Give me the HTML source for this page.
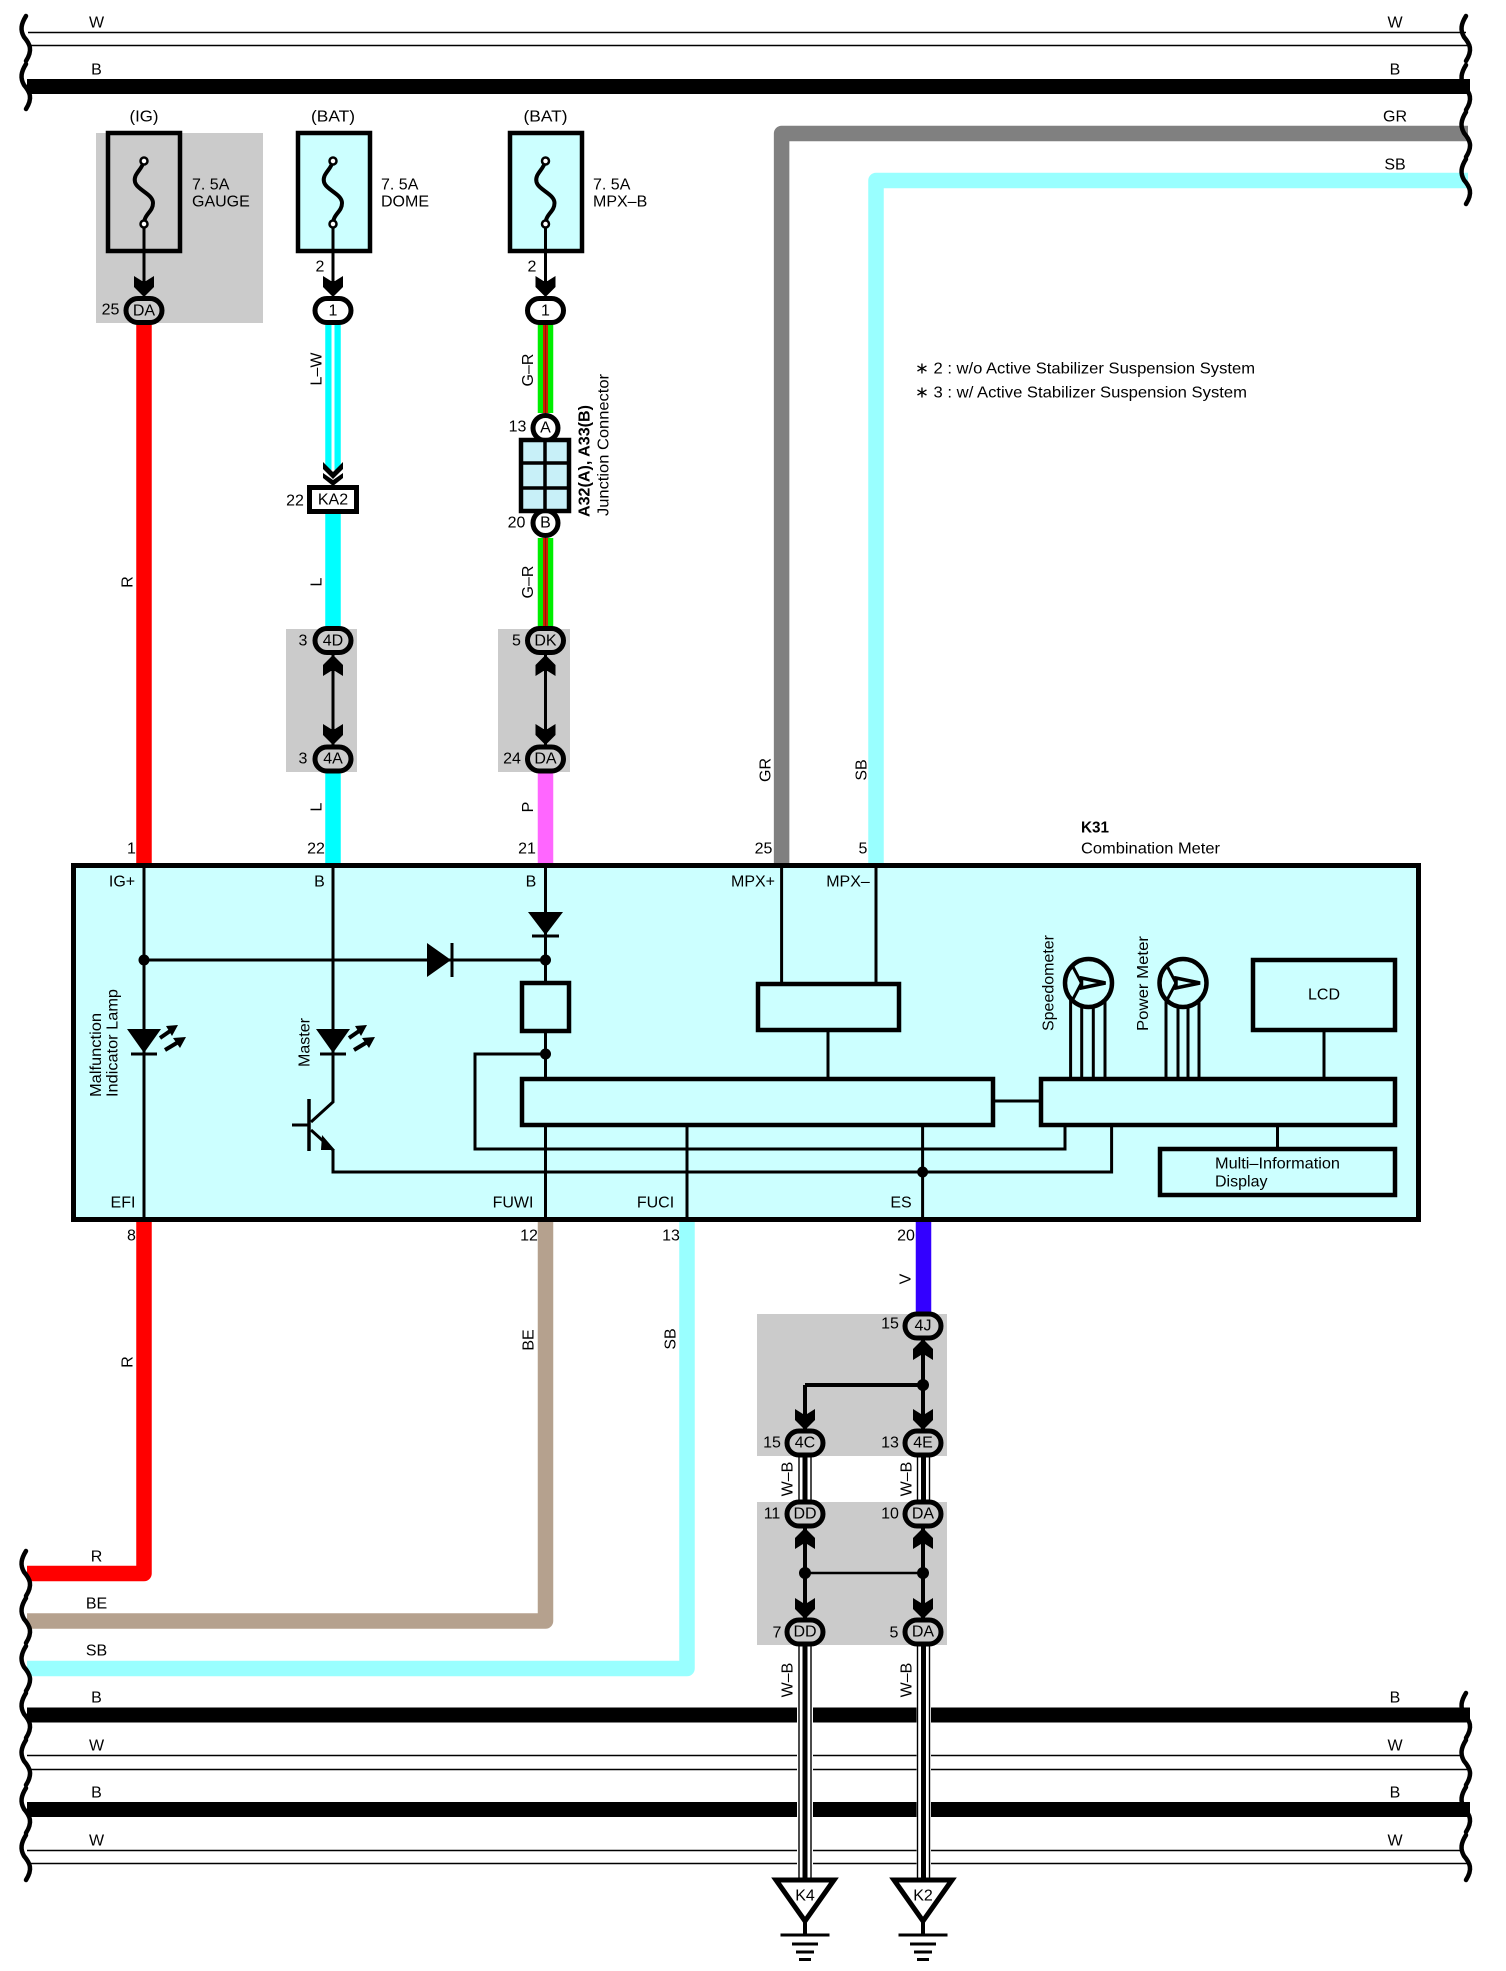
<!DOCTYPE html>
<html><head><meta charset="utf-8">
<style>
html,body{margin:0;padding:0;background:#fff}
svg{display:block}
text{font-family:"Liberation Sans",Arial,sans-serif;font-size:16px;fill:#000;text-anchor:middle;dominant-baseline:central}
.s{text-anchor:start}
.l{fill:none;stroke:#000;stroke-width:3}
.b{fill:#CCFFFF;stroke:#000;stroke-width:4.5}
</style></head><body>
<svg width="1506" height="1971" viewBox="0 0 1506 1971" xmlns="http://www.w3.org/2000/svg">
<defs>
<path id="br" d="M5,0 C0,8 -1,14 3,21 C9,28 12,34 5,45" fill="none" stroke="#000" stroke-width="4.5" stroke-linecap="round"/>
<path id="ad" d="M-10,0 L-2,5 H2 L10,0 V11 L0,21 L-10,11Z" fill="#000"/>
<path id="au" d="M-10,0 L-2,-5 H2 L10,0 V-11 L0,-21 L-10,-11Z" fill="#000"/>
<g id="led"><path d="M-17,0 H17 L0,24Z" fill="#000"/><path d="M-13,25 H13" stroke="#000" stroke-width="3"/>
<path d="M16,9 L29,0" stroke="#000" stroke-width="4"/><path d="M22,-3 L34,-4 L28,7Z" fill="#000"/>
<path d="M21,21 L36,12" stroke="#000" stroke-width="4"/><path d="M29,9 L42,8 L36,19Z" fill="#000"/></g>
<g id="gauge"><ellipse rx="23.5" ry="24" fill="#CCFFFF" stroke="#000" stroke-width="4.5"/>
<path d="M-16,-17 L-7,0 L-16,17" fill="none" stroke="#000" stroke-width="3"/>
<path d="M-7,-5 L17,0 L-7,5 Z" fill="#CCFFFF" stroke="#000" stroke-width="3.5"/></g>
<g id="fuse"><path d="M0,-31 C-2,-22 -11,-18 -9,-10 C-7,-2 9,2 9,11 C9,20 0,22 0,32" fill="none" stroke="#000" stroke-width="4"/>
<circle cy="-31" r="3.5" fill="#fff" stroke="#000" stroke-width="2.5"/><circle cy="32" r="3.5" fill="#fff" stroke="#000" stroke-width="2.5"/></g>
<g id="gnd"><path d="M-29,1 H29 L0,42Z" fill="#fff" stroke="#000" stroke-width="5" stroke-linejoin="miter"/>
<path d="M0,42 V56" stroke="#000" stroke-width="4"/>
<path d="M-24.5,56 H24.5 M-13,65 H13 M-9,73 H9 M-6,80.500 H6" stroke="#000" stroke-width="3"/></g>
</defs>
<rect width="1506" height="1971" fill="#fff"/>

<!-- shaded -->
<g fill="#CBCBCB">
<rect x="96" y="133" width="167" height="190"/>
<rect x="286" y="629" width="71" height="143"/>
<rect x="498" y="629" width="72" height="143"/>
<rect x="757" y="1314" width="190" height="142"/>
<rect x="757" y="1502" width="190" height="143"/>
</g>

<!-- top bus -->
<g stroke="#000" fill="none">
<path d="M28,32.500 H1466 M28,45.500 H1470" stroke-width="1.4"/>
<path d="M27,86.500 H1470" stroke-width="15"/>
<path d="M27,1715 H1470 M27,1809.500 H1470" stroke-width="15"/>
<path d="M27,1755.500 H1462 M30,1769.500 H1470 M27,1850.500 H1462 M30,1863.500 H1470" stroke-width="1.4"/>
</g>

<!-- coloured wires -->
<g fill="none" stroke-linejoin="round" stroke-width="15.500">
<path d="M144,324 V863" stroke="#FF0000"/>
<path d="M144,1222 V1573.500 H27" stroke="#FF0000"/>
<path d="M545.500,1222 V1621 H27" stroke="#B5A18E"/>
<path d="M687,1222 V1668.500 H27" stroke="#99FFFF"/>
<path d="M781.600,863 V133.500 H1468" stroke="#808080"/>
<path d="M876,863 V180.500 H1468" stroke="#99FFFF"/>
<path d="M333,324 V470" stroke="#00FFFF"/>
<path d="M333,513 V629 M333,773 V863" stroke="#00FFFF"/>
<path d="M545.500,773 V863" stroke="#FF66FF"/>
<path d="M923.500,1222 V1312" stroke="#3300FF"/>
<path d="M545.500,324 V413 M545.500,538 V629" stroke="#00EE00"/>
</g>
<path d="M333,324 V470" stroke="#fff" stroke-width="3" fill="none"/>
<path d="M545.500,324 V413 M545.500,538 V629" stroke="#CC2200" stroke-width="5" fill="none"/>
<path d="M545.500,324 V413 M545.500,538 V629" stroke="#000" stroke-width="1" fill="none" stroke-opacity=".3"/>

<!-- wire breaks -->
<use href="#br" x="21" y="16"/><use href="#br" x="21" y="64"/>
<use href="#br" x="1461" y="16"/><use href="#br" x="1461" y="65"/><use href="#br" x="1461" y="112"/><use href="#br" x="1461" y="159"/>
<use href="#br" x="21" y="1551"/><use href="#br" x="21" y="1598"/><use href="#br" x="21" y="1646"/><use href="#br" x="21" y="1693"/><use href="#br" x="21" y="1740"/><use href="#br" x="21" y="1788"/><use href="#br" x="21" y="1835"/>
<use href="#br" x="1461" y="1693"/><use href="#br" x="1461" y="1740"/><use href="#br" x="1461" y="1787"/><use href="#br" x="1461" y="1835"/>

<!-- fuses -->
<rect x="108" y="133" width="72" height="118" fill="#CBCBCB" stroke="#000" stroke-width="4.500"/>
<rect x="298" y="133" width="72" height="118" fill="#CCFFFF" stroke="#000" stroke-width="4.500"/>
<rect x="510" y="133" width="72" height="118" fill="#CCFFFF" stroke="#000" stroke-width="4.500"/>
<use href="#fuse" x="144" y="192"/><use href="#fuse" x="333" y="192"/><use href="#fuse" x="545.500" y="192"/>
<path d="M144,227 V285 M333,227 V285 M545.500,227 V285" class="l"/>
<use href="#ad" x="144" y="276"/><use href="#ad" x="333" y="276"/><use href="#ad" x="545.500" y="276"/>

<!-- L-W chevrons -->
<path d="M323,462 L333,472 L343,462 V469 L333,479 L323,469Z M323,473 L333,480 L343,473 V478 L333,486 L323,478Z" fill="#000"/>

<!-- connectors -->
<g stroke="#000" stroke-width="5">
<rect x="126" y="298.500" width="36" height="24" rx="12" fill="#CBCBCB"/>
<rect x="315" y="298.500" width="36" height="24" rx="12" fill="#fff"/>
<rect x="527.500" y="298.500" width="36" height="24" rx="12" fill="#fff"/>
<rect x="315" y="628.500" width="36" height="24" rx="12" fill="#CBCBCB"/>
<rect x="315" y="747" width="36" height="24" rx="12" fill="#CBCBCB"/>
<rect x="527.500" y="628.500" width="36" height="24" rx="12" fill="#CBCBCB"/>
<rect x="527.500" y="747" width="36" height="24" rx="12" fill="#CBCBCB"/>
<circle cx="545.500" cy="428" r="12.500" fill="#fff"/>
<circle cx="545.500" cy="523" r="12.500" fill="#fff"/>
<rect x="309.500" y="487.500" width="47" height="24" fill="#fff"/>
</g>
<path d="M333,652 V747 M545.500,652 V747" class="l"/>
<use href="#au" x="333" y="676"/><use href="#ad" x="333" y="724"/>
<use href="#au" x="545.500" y="676"/><use href="#ad" x="545.500" y="724"/>

<!-- junction -->
<rect x="521" y="440" width="48" height="71" fill="#C8F0F8" stroke="#000" stroke-width="4.500"/>
<path d="M545,440 V511 M521,463 H569 M521,488 H569" stroke="#000" stroke-width="3.500"/>

<!-- main box -->
<rect x="73.500" y="865.500" width="1345" height="354" fill="#CCFFFF" stroke="#000" stroke-width="5"/>
<g class="l" fill="none" stroke="#000" stroke-width="3">
<path d="M144,868 V1217"/>
<path d="M333,868 V1102 L311,1122 M311,1130 L333,1150 V1172 H1111.600 V1127"/>
<path d="M144,960 H545.500 M545.500,868 V981 M545.500,1033 V1077 M545.500,1127 V1217"/>
<path d="M545.500,1054 H475 V1149 H1065 V1127"/>
<path d="M687,1127 V1217 M922.600,1127 V1217"/>
<path d="M781.600,868 V982 M876,868 V982 M828,1032 V1077"/>
<path d="M995,1101 H1039 M1324,1032 V1077 M1277.500,1127 V1147"/>
<path d="M1070.600,1000 V1077 M1081.700,1005 V1077 M1093.300,1005 V1077 M1105,1000 V1077"/>
<path d="M1166,1000 V1077 M1178,1005 V1077 M1188,1005 V1077 M1199,1000 V1077"/>
<path d="M309,1099 V1151" stroke-width="3.500"/>
<path d="M292,1125 H309" stroke-width="3"/>
</g>
<path d="M322,1135 L335,1150 L321,1150Z" fill="#000"/>
<g fill="#000">
<circle cx="144" cy="960" r="5.500"/><circle cx="545.500" cy="960" r="5.500"/><circle cx="545.500" cy="1054" r="5.500"/><circle cx="922.600" cy="1172" r="5.500"/>
<path d="M427,943 L451,960 L427,977Z"/>
<path d="M528,912 H563 L545.500,935Z"/>
</g>
<path d="M452,943 V977" stroke="#000" stroke-width="3"/>
<path d="M532,936 H559" stroke="#000" stroke-width="3"/>
<rect x="522" y="983" width="47" height="48" class="b"/>
<rect x="758" y="984" width="141" height="46" class="b"/>
<rect x="522" y="1079" width="471" height="46" class="b"/>
<rect x="1041" y="1079" width="354" height="46" class="b"/>
<rect x="1253" y="960" width="142" height="70" class="b"/>
<rect x="1160" y="1149" width="235" height="46" class="b"/>
<use href="#gauge" x="1088.500" y="983"/><use href="#gauge" x="1183" y="983"/>
<use href="#led" x="144" y="1029"/><use href="#led" x="333" y="1029"/>

<!-- lower right connectors -->
<path d="M923,1340 V1429 M805,1385 V1429 M923,1385 H805 M805,1528 V1619 M923,1528 V1619" fill="none" stroke="#000" stroke-width="4"/>
<path d="M805,1573 H923" stroke="#000" stroke-width="2.500"/>
<g fill="#000"><circle cx="923" cy="1385" r="6"/><circle cx="805" cy="1573" r="6"/><circle cx="923" cy="1573" r="6"/></g>
<use href="#au" x="923" y="1360"/><use href="#ad" x="923" y="1409"/><use href="#ad" x="805" y="1409"/>
<use href="#au" x="805" y="1549"/><use href="#au" x="923" y="1549"/><use href="#ad" x="805" y="1598"/><use href="#ad" x="923" y="1598"/>

<!-- W-B wires -->
<g fill="#fff"><rect x="797" y="1700" width="16" height="178"/><rect x="916.500" y="1700" width="14.500" height="178"/></g>
<g fill="none" stroke="#000">
<path d="M799,1457 V1501 M811,1457 V1501 M917.500,1457 V1501 M929.500,1457 V1501 M799,1645 V1880 M811,1645 V1880 M917.500,1645 V1880 M929.500,1645 V1880" stroke-width="1.400"/>
<path d="M805,1457 V1501 M923.500,1457 V1501 M805,1645 V1880 M923.500,1645 V1880" stroke-width="5"/>
</g>
<g stroke="#000" stroke-width="5" fill="#CBCBCB">
<rect x="905" y="1314" width="36" height="24" rx="12"/>
<rect x="787" y="1431" width="36" height="24" rx="12"/>
<rect x="905" y="1431" width="36" height="24" rx="12"/>
<rect x="787" y="1502" width="36" height="24" rx="12"/>
<rect x="905" y="1502" width="36" height="24" rx="12"/>
<rect x="787" y="1620" width="36" height="24" rx="12"/>
<rect x="905" y="1620" width="36" height="24" rx="12"/>
</g>
<use href="#gnd" x="805" y="1879"/><use href="#gnd" x="923" y="1879"/>

<!-- text -->
<text x="96.500" y="23">W</text><text x="96.500" y="70">B</text>
<text x="1395" y="23">W</text><text x="1395" y="70">B</text><text x="1395" y="117">GR</text><text x="1395" y="165">SB</text>
<text x="144" y="117" textLength="29" lengthAdjust="spacingAndGlyphs">(IG)</text><text x="333" y="117" textLength="44" lengthAdjust="spacingAndGlyphs">(BAT)</text><text x="545.500" y="117" textLength="44" lengthAdjust="spacingAndGlyphs">(BAT)</text>
<text class="s" x="192" y="185">7. 5A</text><text class="s" x="192" y="202">GAUGE</text>
<text class="s" x="381" y="185">7. 5A</text><text class="s" x="381" y="202">DOME</text>
<text class="s" x="593" y="185">7. 5A</text><text class="s" x="593" y="202">MPX–B</text>
<text x="320" y="267">2</text><text x="532" y="267">2</text><text x="110.500" y="310">25</text>
<text x="144" y="311">DA</text><text x="333" y="311">1</text><text x="545.500" y="311">1</text>
<text x="545.500" y="428">A</text><text x="545.500" y="523">B</text>
<text x="517.500" y="427">13</text><text x="516.500" y="523">20</text>
<text x="333" y="500">KA2</text><text x="295" y="501">22</text>
<text x="303" y="641">3</text><text x="303" y="759">3</text><text x="333" y="641">4D</text><text x="333" y="759">4A</text>
<text x="516.500" y="641">5</text><text x="512" y="759">24</text><text x="545.500" y="641">DK</text><text x="545.500" y="759">DA</text>
<text x="131.500" y="849">1</text><text x="316" y="849">22</text><text x="527" y="849">21</text><text x="763.500" y="849">25</text><text x="863" y="849">5</text>
<text x="122" y="882">IG+</text><text x="319.500" y="882">B</text><text x="531" y="882">B</text><text x="753" y="882">MPX+</text><text x="848" y="882">MPX–</text>
<text class="s" x="1081" y="828" font-weight="bold" textLength="28" lengthAdjust="spacingAndGlyphs">K31</text>
<text class="s" x="1081" y="849" textLength="139" lengthAdjust="spacingAndGlyphs">Combination Meter</text>
<text class="s" x="915" y="369" textLength="340" lengthAdjust="spacingAndGlyphs">∗ 2 : w/o Active Stabilizer Suspension System</text>
<text class="s" x="915" y="393" textLength="332" lengthAdjust="spacingAndGlyphs">∗ 3 : w/ Active Stabilizer Suspension System</text>
<text x="1324" y="995">LCD</text>
<text class="s" x="1215" y="1164" textLength="125" lengthAdjust="spacingAndGlyphs">Multi–Information</text>
<text class="s" x="1215" y="1182">Display</text>
<text x="123" y="1203">EFI</text><text x="513" y="1203">FUWI</text><text x="655.500" y="1203">FUCI</text><text x="901" y="1203">ES</text>
<text x="131.500" y="1236">8</text><text x="529" y="1236">12</text><text x="671" y="1236">13</text><text x="906" y="1236">20</text>
<text x="96.500" y="1557">R</text><text x="96.500" y="1604">BE</text><text x="96.500" y="1651">SB</text><text x="96.500" y="1698">B</text><text x="96.500" y="1746">W</text><text x="96.500" y="1793">B</text><text x="96.500" y="1841">W</text>
<text x="1395" y="1698">B</text><text x="1395" y="1746">W</text><text x="1395" y="1793">B</text><text x="1395" y="1841">W</text>
<text x="923" y="1326">4J</text><text x="805" y="1443">4C</text><text x="923" y="1443">4E</text><text x="805" y="1514">DD</text><text x="923" y="1514">DA</text><text x="805" y="1632">DD</text><text x="923" y="1632">DA</text>
<text x="890" y="1324">15</text><text x="772" y="1443">15</text><text x="890" y="1443">13</text><text x="772" y="1514">11</text><text x="890" y="1514">10</text><text x="777" y="1633">7</text><text x="894" y="1633">5</text>
<text x="805" y="1896">K4</text><text x="923" y="1896">K2</text>

<!-- rotated text -->
<text transform="translate(317,369) rotate(-90)">L–W</text>
<text transform="translate(528.700,370) rotate(-90)">G–R</text>
<text transform="translate(128,582) rotate(-90)">R</text>
<text transform="translate(317,582) rotate(-90)">L</text>
<text transform="translate(528.700,582) rotate(-90)">G–R</text>
<text transform="translate(317,807) rotate(-90)">L</text>
<text transform="translate(528.700,807) rotate(-90)">P</text>
<text transform="translate(766,770) rotate(-90)">GR</text>
<text transform="translate(862,770) rotate(-90)">SB</text>
<text transform="translate(128,1362) rotate(-90)">R</text>
<text transform="translate(529,1340) rotate(-90)">BE</text>
<text transform="translate(671,1339) rotate(-90)">SB</text>
<text transform="translate(906,1279) rotate(-90)">V</text>
<text class="s" transform="translate(585,517) rotate(-90)" font-weight="bold" textLength="112" lengthAdjust="spacingAndGlyphs">A32(A), A33(B)</text>
<text class="s" transform="translate(604,516) rotate(-90)" textLength="142" lengthAdjust="spacingAndGlyphs">Junction Connector</text>
<text class="s" transform="translate(1049,1031) rotate(-90)" textLength="96" lengthAdjust="spacingAndGlyphs">Speedometer</text>
<text class="s" transform="translate(1143.500,1031) rotate(-90)" textLength="95" lengthAdjust="spacingAndGlyphs">Power Meter</text>
<text class="s" transform="translate(96.500,1097) rotate(-90)" textLength="84" lengthAdjust="spacingAndGlyphs">Malfunction</text>
<text class="s" transform="translate(113,1097) rotate(-90)" textLength="108" lengthAdjust="spacingAndGlyphs">Indicator Lamp</text>
<text class="s" transform="translate(305,1067) rotate(-90)" textLength="49" lengthAdjust="spacingAndGlyphs">Master</text>
<text transform="translate(788,1479) rotate(-90)">W–B</text>
<text transform="translate(907,1479) rotate(-90)">W–B</text>
<text transform="translate(788,1680) rotate(-90)">W–B</text>
<text transform="translate(907,1680) rotate(-90)">W–B</text>
</svg>
</body></html>
